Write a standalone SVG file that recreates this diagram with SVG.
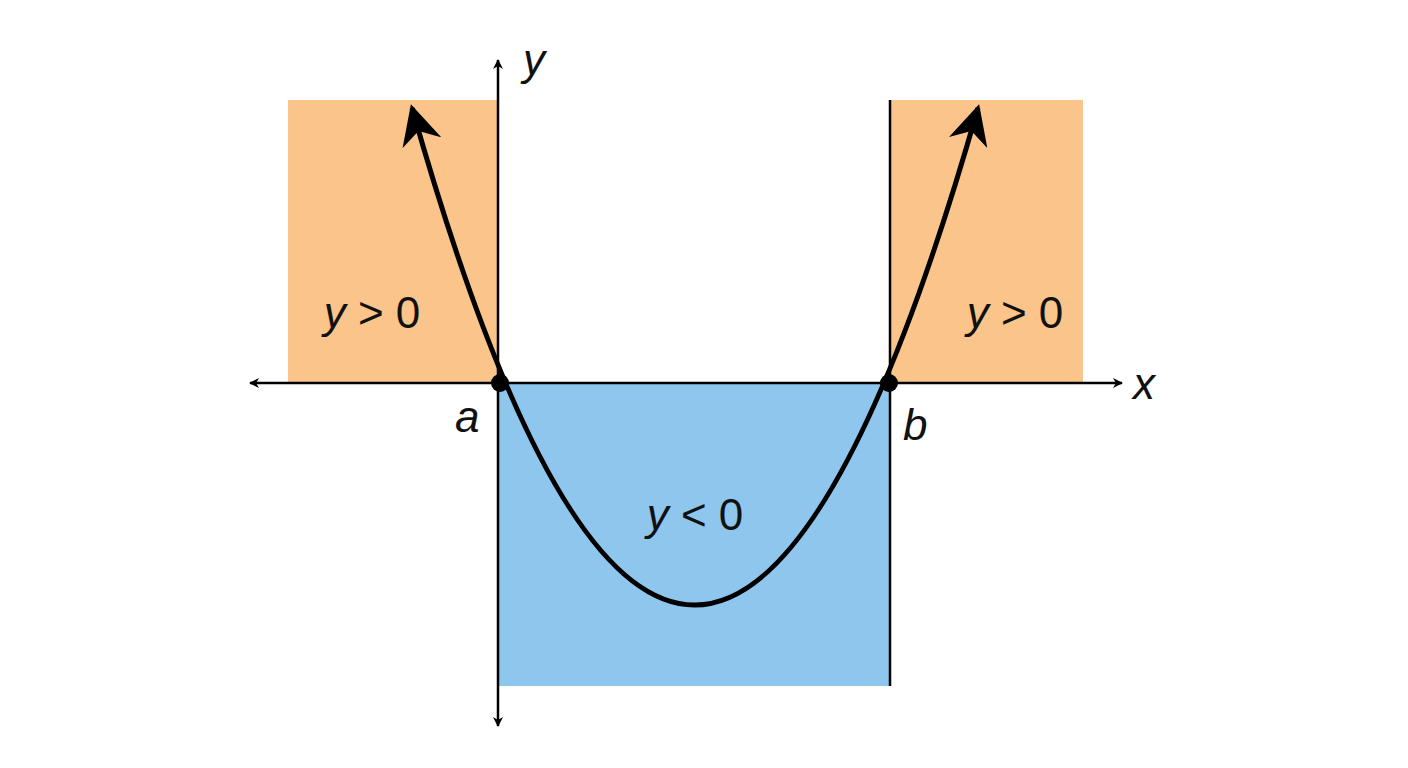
<svg xmlns="http://www.w3.org/2000/svg" width="1408" height="768" viewBox="0 0 1408 768">
<defs>
<marker id="ah" viewBox="0 0 10 10" refX="9" refY="5" markerWidth="10" markerHeight="10" markerUnits="userSpaceOnUse" orient="auto-start-reverse"><path d="M0,0 L10,5 L0,10 L3,5 Z" fill="#000"/></marker>
<marker id="ah2" viewBox="0 0 10 10" refX="9" refY="5" markerWidth="8" markerHeight="8" orient="auto-start-reverse"><path d="M0,0 L10,5 L0,10 L3,5 Z" fill="#000"/></marker>
</defs>
<style>
text{font-family:"Liberation Sans",Arial,sans-serif;font-size:44px;fill:#111}
.i{font-style:italic}
.ax{stroke:#000;stroke-width:2.5;fill:none}
</style>
<rect width="1408" height="768" fill="#fff"/>
<rect x="288" y="100" width="210" height="283" fill="#fac48a"/>
<rect x="890" y="100" width="193" height="283" fill="#fac48a"/>
<rect x="498" y="383" width="392" height="303" fill="#8ec6ee"/>
<g id="axes">
<line class="ax" x1="250" y1="383" x2="1122" y2="383" marker-start="url(#ah)" marker-end="url(#ah)" style="--m:1" />
<line class="ax" x1="498" y1="726" x2="498" y2="60" marker-start="url(#ah)" marker-end="url(#ah)"/>
<line class="ax" x1="890" y1="100" x2="890" y2="686"/>
</g>
<path d="M412,108 Q694,1102 978,108" stroke="#000" stroke-width="5" fill="none" marker-start="url(#ah2)" marker-end="url(#ah2)"/>
<circle cx="500" cy="383" r="9" fill="#000"/>
<circle cx="889" cy="383" r="9" fill="#000"/>
<text x="523" y="75" class="i">y</text>
<text x="1133" y="399" class="i">x</text>
<text x="455" y="432" class="i">a</text>
<text x="903" y="440" class="i">b</text>
<text x="372" y="328" text-anchor="middle"><tspan class="i">y</tspan> &gt; 0</text>
<text x="1015" y="328" text-anchor="middle"><tspan class="i">y</tspan> &gt; 0</text>
<text x="695" y="530" text-anchor="middle"><tspan class="i">y</tspan> &lt; 0</text>
</svg>
